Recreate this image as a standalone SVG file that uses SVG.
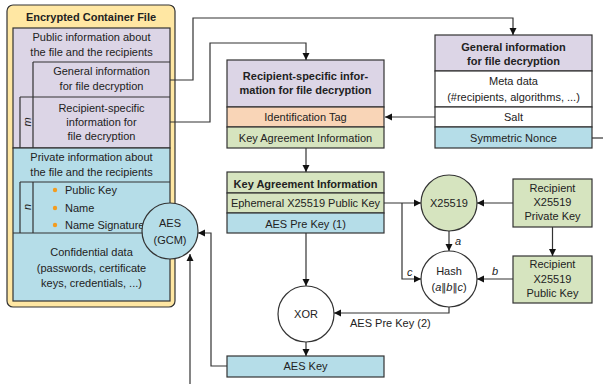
<svg xmlns="http://www.w3.org/2000/svg" width="603" height="384" viewBox="0 0 603 384">
<style>
text{font-family:"Liberation Sans",Arial,sans-serif;font-size:11px;fill:#222;text-anchor:middle}
.b{font-weight:bold}
.l{text-anchor:start}
.it{font-style:italic}
.dv{font-family:"DejaVu Sans",sans-serif;font-size:10px}
.s{stroke:#333;stroke-width:1.2}
.ln{fill:none;stroke:#333;stroke-width:1.2}
.pur{fill:#dcd5e6}
.cy{fill:#b5dde8}
.gr{fill:#d6e4bf}
.or{fill:#f9d5b7}
.wh{fill:#fff}
</style>
<defs>
<marker id="ar" markerWidth="8" markerHeight="8" refX="7" refY="4" orient="auto" markerUnits="userSpaceOnUse">
<path d="M0,0.5 L7,4 L0,7.5 Z" fill="#111"/>
</marker>
</defs>

<g id="container">
<rect x="7" y="5" width="168" height="302" rx="6" fill="#ffe7a3" class="s"/>
<text x="91" y="21" class="b">Encrypted Container File</text>
<rect x="13" y="28" width="157" height="120" class="pur s"/>
<rect x="13" y="148" width="157" height="153" class="cy s"/>
<text x="91.5" y="41">Public information about</text>
<text x="91.5" y="56">the file and the recipients</text>
<path d="M33,62 H170 M33,62 V148 M20,97 H170 M20,97 V148" class="ln"/>
<text x="101.5" y="75">General information</text>
<text x="101.5" y="90">for file decryption</text>
<text x="101.5" y="112">Recipient-specific</text>
<text x="101.5" y="126">information for</text>
<text x="101.5" y="140">file decryption</text>
<text transform="translate(30.5,122) rotate(-90)" class="it">m</text>
<text x="91.5" y="161">Private information about</text>
<text x="91.5" y="176">the file and the recipients</text>
<path d="M20,182 H170 M20,182 V233 M33,182 V233 M13,233 H170" class="ln"/>
<text transform="translate(30.5,207) rotate(-90)" class="it">n</text>
<circle cx="55" cy="190" r="2.2" fill="#f39c1f"/>
<circle cx="55" cy="208" r="2.2" fill="#f39c1f"/>
<circle cx="55" cy="225" r="2.2" fill="#f39c1f"/>
<text x="65" y="194" class="l">Public Key</text>
<text x="65" y="212" class="l">Name</text>
<text x="65" y="229" class="l">Name Signature</text>
<text x="91.5" y="256">Confidential data</text>
<text x="91.5" y="272">(passwords, certificate</text>
<text x="91.5" y="287">keys, credentials, ...)</text>
</g>

<g id="aes-gcm">
<circle cx="170" cy="231" r="28" class="cy s"/>
<text x="170" y="227">AES</text>
<text x="170" y="244">(GCM)</text>
</g>

<g id="general-info">
<rect x="435" y="35" width="157" height="36" class="pur s"/>
<rect x="435" y="71" width="157" height="36" class="wh s"/>
<rect x="435" y="107" width="157" height="20" class="wh s"/>
<rect x="435" y="127" width="157" height="21" class="cy s"/>
<text x="513.5" y="51" class="b">General information</text>
<text x="513.5" y="65" class="b">for file decryption</text>
<text x="513.5" y="85">Meta data</text>
<text x="513.5" y="101">(#recipients, algorithms, ...)</text>
<text x="513.5" y="121">Salt</text>
<text x="513.5" y="142">Symmetric Nonce</text>
</g>

<g id="recipient-info">
<rect x="227" y="60" width="157" height="47" class="pur s"/>
<rect x="227" y="107" width="157" height="20" class="or s"/>
<rect x="227" y="127" width="157" height="21" class="gr s"/>
<text x="305.5" y="80" class="b">Recipient-specific infor-</text>
<text x="305.5" y="94" class="b">mation for file decryption</text>
<text x="305.5" y="121">Identification Tag</text>
<text x="305.5" y="142">Key Agreement Information</text>
</g>

<g id="key-agreement">
<rect x="227" y="172" width="157" height="21" class="gr s"/>
<rect x="227" y="193" width="157" height="20" class="gr s"/>
<rect x="227" y="213" width="157" height="20" class="cy s"/>
<text x="305.5" y="188" class="b">Key Agreement Information</text>
<text x="305.5" y="207">Ephemeral X25519 Public Key</text>
<text x="305.5" y="228">AES Pre Key (1)</text>
</g>

<g id="aes-key">
<rect x="227" y="356" width="157" height="21" class="cy s"/>
<text x="305.5" y="370">AES Key</text>
</g>

<g id="xor">
<circle cx="306" cy="314" r="28" class="wh s"/>
<text x="306" y="318">XOR</text>
</g>

<g id="x25519">
<circle cx="449" cy="203" r="28" class="gr s"/>
<text x="449" y="207">X25519</text>
</g>

<g id="hash">
<circle cx="449" cy="279" r="28" class="wh s"/>
<text x="449" y="275">Hash</text>
<text x="449" y="291">(<tspan class="it">a</tspan><tspan class="dv">‖</tspan><tspan class="it">b</tspan><tspan class="dv">‖</tspan><tspan class="it">c</tspan>)</text>
</g>

<g id="private-key">
<rect x="513" y="179" width="79" height="48" class="gr s"/>
<text x="552.5" y="192">Recipient</text>
<text x="552.5" y="206">X25519</text>
<text x="552.5" y="220">Private Key</text>
</g>

<g id="public-key">
<rect x="513" y="256" width="79" height="47" class="gr s"/>
<text x="552.5" y="268">Recipient</text>
<text x="552.5" y="283">X25519</text>
<text x="552.5" y="297">Public Key</text>
</g>

<g id="connectors">
<path d="M170,80 H193 V18 H513 V35" class="ln" marker-end="url(#ar)"/>
<path d="M170,122 H210 V43 H306 V60" class="ln" marker-end="url(#ar)"/>
<path d="M435,117 H385" class="ln" marker-end="url(#ar)"/>
<path d="M306,148 V172" class="ln" marker-end="url(#ar)"/>
<path d="M306,233 V286" class="ln" marker-end="url(#ar)"/>
<path d="M306,342 V356" class="ln" marker-end="url(#ar)"/>
<path d="M384,203 H421" class="ln" marker-end="url(#ar)"/>
<path d="M402,203 V279 H421" class="ln" marker-end="url(#ar)"/>
<path d="M513,203 H477" class="ln" marker-end="url(#ar)"/>
<path d="M552.5,227 V256" class="ln" marker-end="url(#ar)"/>
<path d="M513,279 H477" class="ln" marker-end="url(#ar)"/>
<path d="M449,231 V251" class="ln" marker-end="url(#ar)"/>
<path d="M449,307 V313 H334" class="ln" marker-end="url(#ar)"/>
<path d="M227,366 H211 V233 H198" class="ln" marker-end="url(#ar)"/>
<path d="M190,384 V254" class="ln" marker-end="url(#ar)"/>
<path d="M592,138 H603" class="ln"/>
<text x="455" y="245" class="l it">a</text>
<text x="492" y="275" class="l it">b</text>
<text x="407" y="276" class="l it">c</text>
<text x="350" y="327" class="l">AES Pre Key (2)</text>
</g>
</svg>
